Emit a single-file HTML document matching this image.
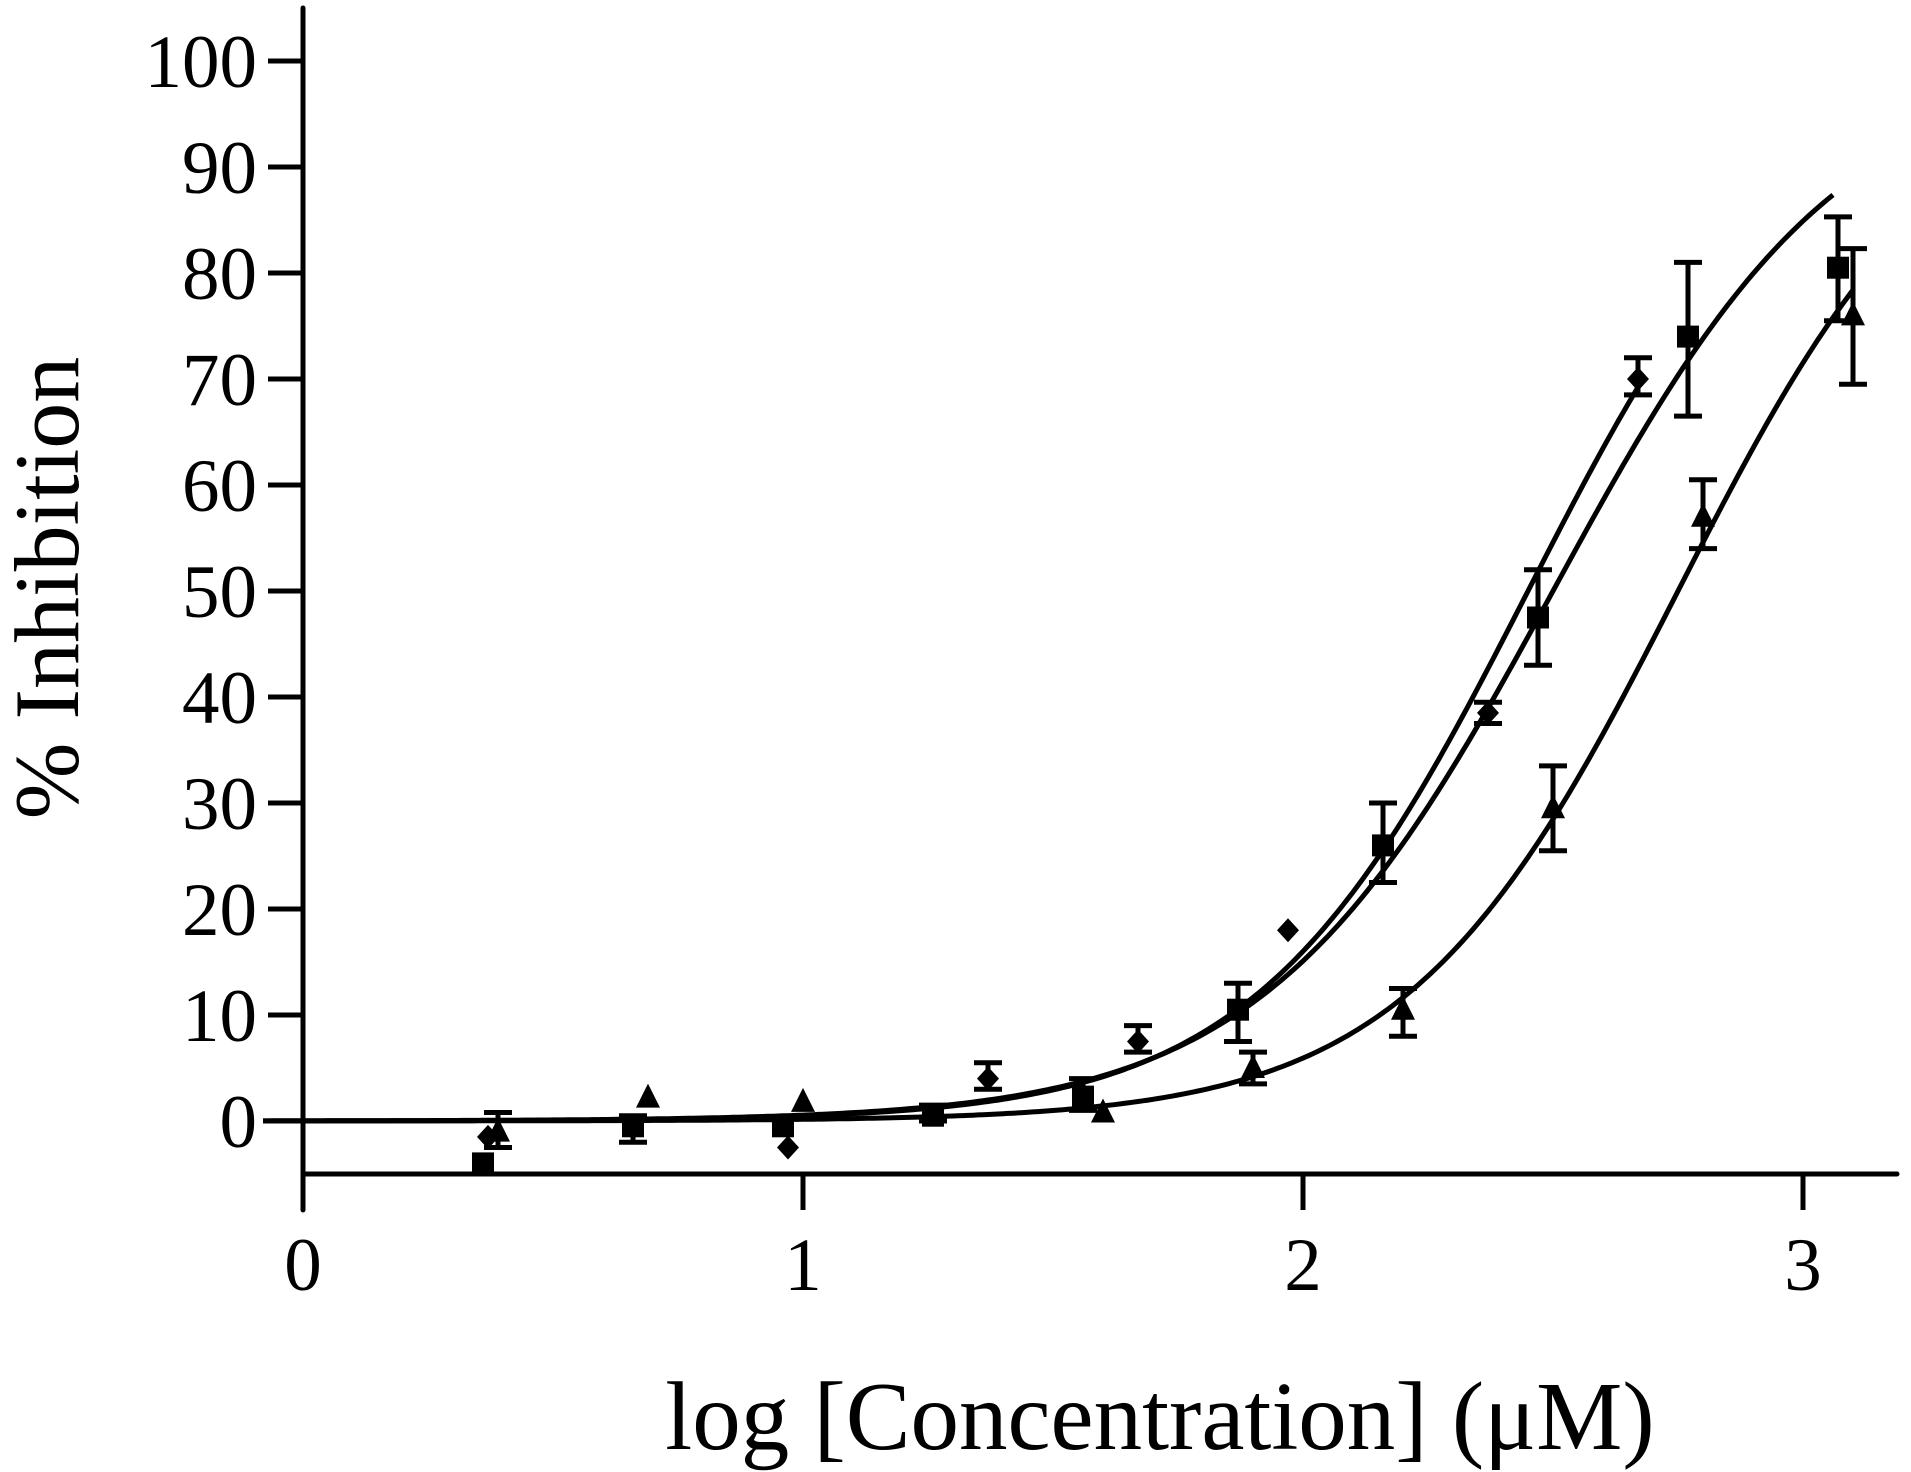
<!DOCTYPE html>
<html><head><meta charset="utf-8"><style>
html,body{margin:0;padding:0;background:#fff;}
svg{display:block;}
text{font-family:"Liberation Serif",serif;fill:#000;}
</style></head><body>
<svg id="s" width="1911" height="1472" viewBox="0 0 1911 1472" xmlns="http://www.w3.org/2000/svg">
<g stroke="#000" stroke-width="5" fill="none" stroke-linecap="round">
<line x1="303" y1="8" x2="303" y2="1210"/>
<line x1="303" y1="1174" x2="1897" y2="1174"/>
</g>
<g id="ax"></g>
<g id="pl"></g>
<text x="1160" y="1449" font-size="97" text-anchor="middle">log [Concentration] (μM)</text>
<text transform="translate(78,588) rotate(-90)" font-size="92" text-anchor="middle">% Inhibition</text>
</svg>
<script>
var NS="http://www.w3.org/2000/svg";
function X(v){return 303+v*500;}
function Y(v){return 1121-v*10.6;}
function el(p,t,a,txt){var e=document.createElementNS(NS,t);for(var k in a)e.setAttribute(k,a[k]);if(txt!==undefined)e.textContent=txt;p.appendChild(e);return e;}
var ax=document.getElementById('ax'),pl=document.getElementById('pl');
for(var i=0;i<=10;i++){var y=Y(i*10);
el(ax,'line',{x1:268,y1:y,x2:303,y2:y,stroke:'#000','stroke-width':5});
el(ax,'text',{x:257,y:y+26,'font-size':75,'text-anchor':'end'},String(i*10));}
for(var i=0;i<=3;i++){var x=X(i);
el(ax,'line',{x1:x,y1:1174,x2:x,y2:1210,stroke:'#000','stroke-width':5});
el(ax,'text',{x:x,y:1290,'font-size':75,'text-anchor':'middle'},String(i));}
function curve(ec,h,x0,x1){var d='';for(var x=x0;x<=x1+1e-9;x+=0.01){var v=100/(1+Math.pow(10,(ec-x)*h));d+=(d?'L':'M')+X(x).toFixed(1)+','+Y(v).toFixed(1);}
el(pl,'path',{d:d,stroke:'#000','stroke-width':5,fill:'none'});}
curve(2.45,1.6,-0.08,2.67);
curve(2.5,1.5,-0.08,3.06);
curve(2.75,1.6,-0.08,3.1);
function eb(x,lo,hi){var cx=X(x);el(pl,'path',{d:'M'+cx+','+Y(lo)+'V'+Y(hi)+'M'+(cx-14)+','+Y(lo)+'h28M'+(cx-14)+','+Y(hi)+'h28',stroke:'#000','stroke-width':5,fill:'none'});}
function sq(x,v){el(pl,'rect',{x:X(x)-11,y:Y(v)-11,width:22,height:22,fill:'#000'});}
function di(x,v){var cx=X(x),cy=Y(v);el(pl,'polygon',{points:(cx)+','+(cy-12)+' '+(cx+11)+','+cy+' '+cx+','+(cy+12)+' '+(cx-11)+','+cy,fill:'#000'});}
function tr(x,v){var cx=X(x),cy=Y(v);el(pl,'polygon',{points:cx+','+(cy-14)+' '+(cx+12)+','+(cy+10)+' '+(cx-12)+','+(cy+10),fill:'#000'});}
[[1.87,7.5,13],[2.16,22.5,30],[2.47,43,52],[2.77,66.5,81],[3.07,75.5,85.3],[1.56,1,4],[1.26,0,1.5],[0.66,-2,0.5],
[3.1,69.5,82.3],[2.8,54,60.5],[2.5,25.5,33.5],[2.2,8,12.5],[1.9,3.5,6.5],[0.39,-2.5,0.8],
[2.67,68.5,72],[2.37,37.5,39.5],[1.67,6.5,9],[1.37,3,5.5]].forEach(function(a){eb(a[0],a[1],a[2]);});
[[0.37,-1.5],[0.97,-2.5],[1.37,4],[1.67,7.5],[1.97,18],[2.37,38.5],[2.67,70]].forEach(function(a){di(a[0],a[1]);});
[[0.36,-4],[0.66,-0.5],[0.96,-0.5],[1.26,0.5],[1.56,2.3],[1.87,10.5],[2.16,26],[2.47,47.5],[2.77,74],[3.07,80.5]].forEach(function(a){sq(a[0],a[1]);});
[[0.39,-1],[0.69,2.2],[1.0,1.8],[1.6,0.8],[1.9,5],[2.2,10.5],[2.5,29.5],[2.8,57],[3.1,76]].forEach(function(a){tr(a[0],a[1]);});
</script>
</body></html>
